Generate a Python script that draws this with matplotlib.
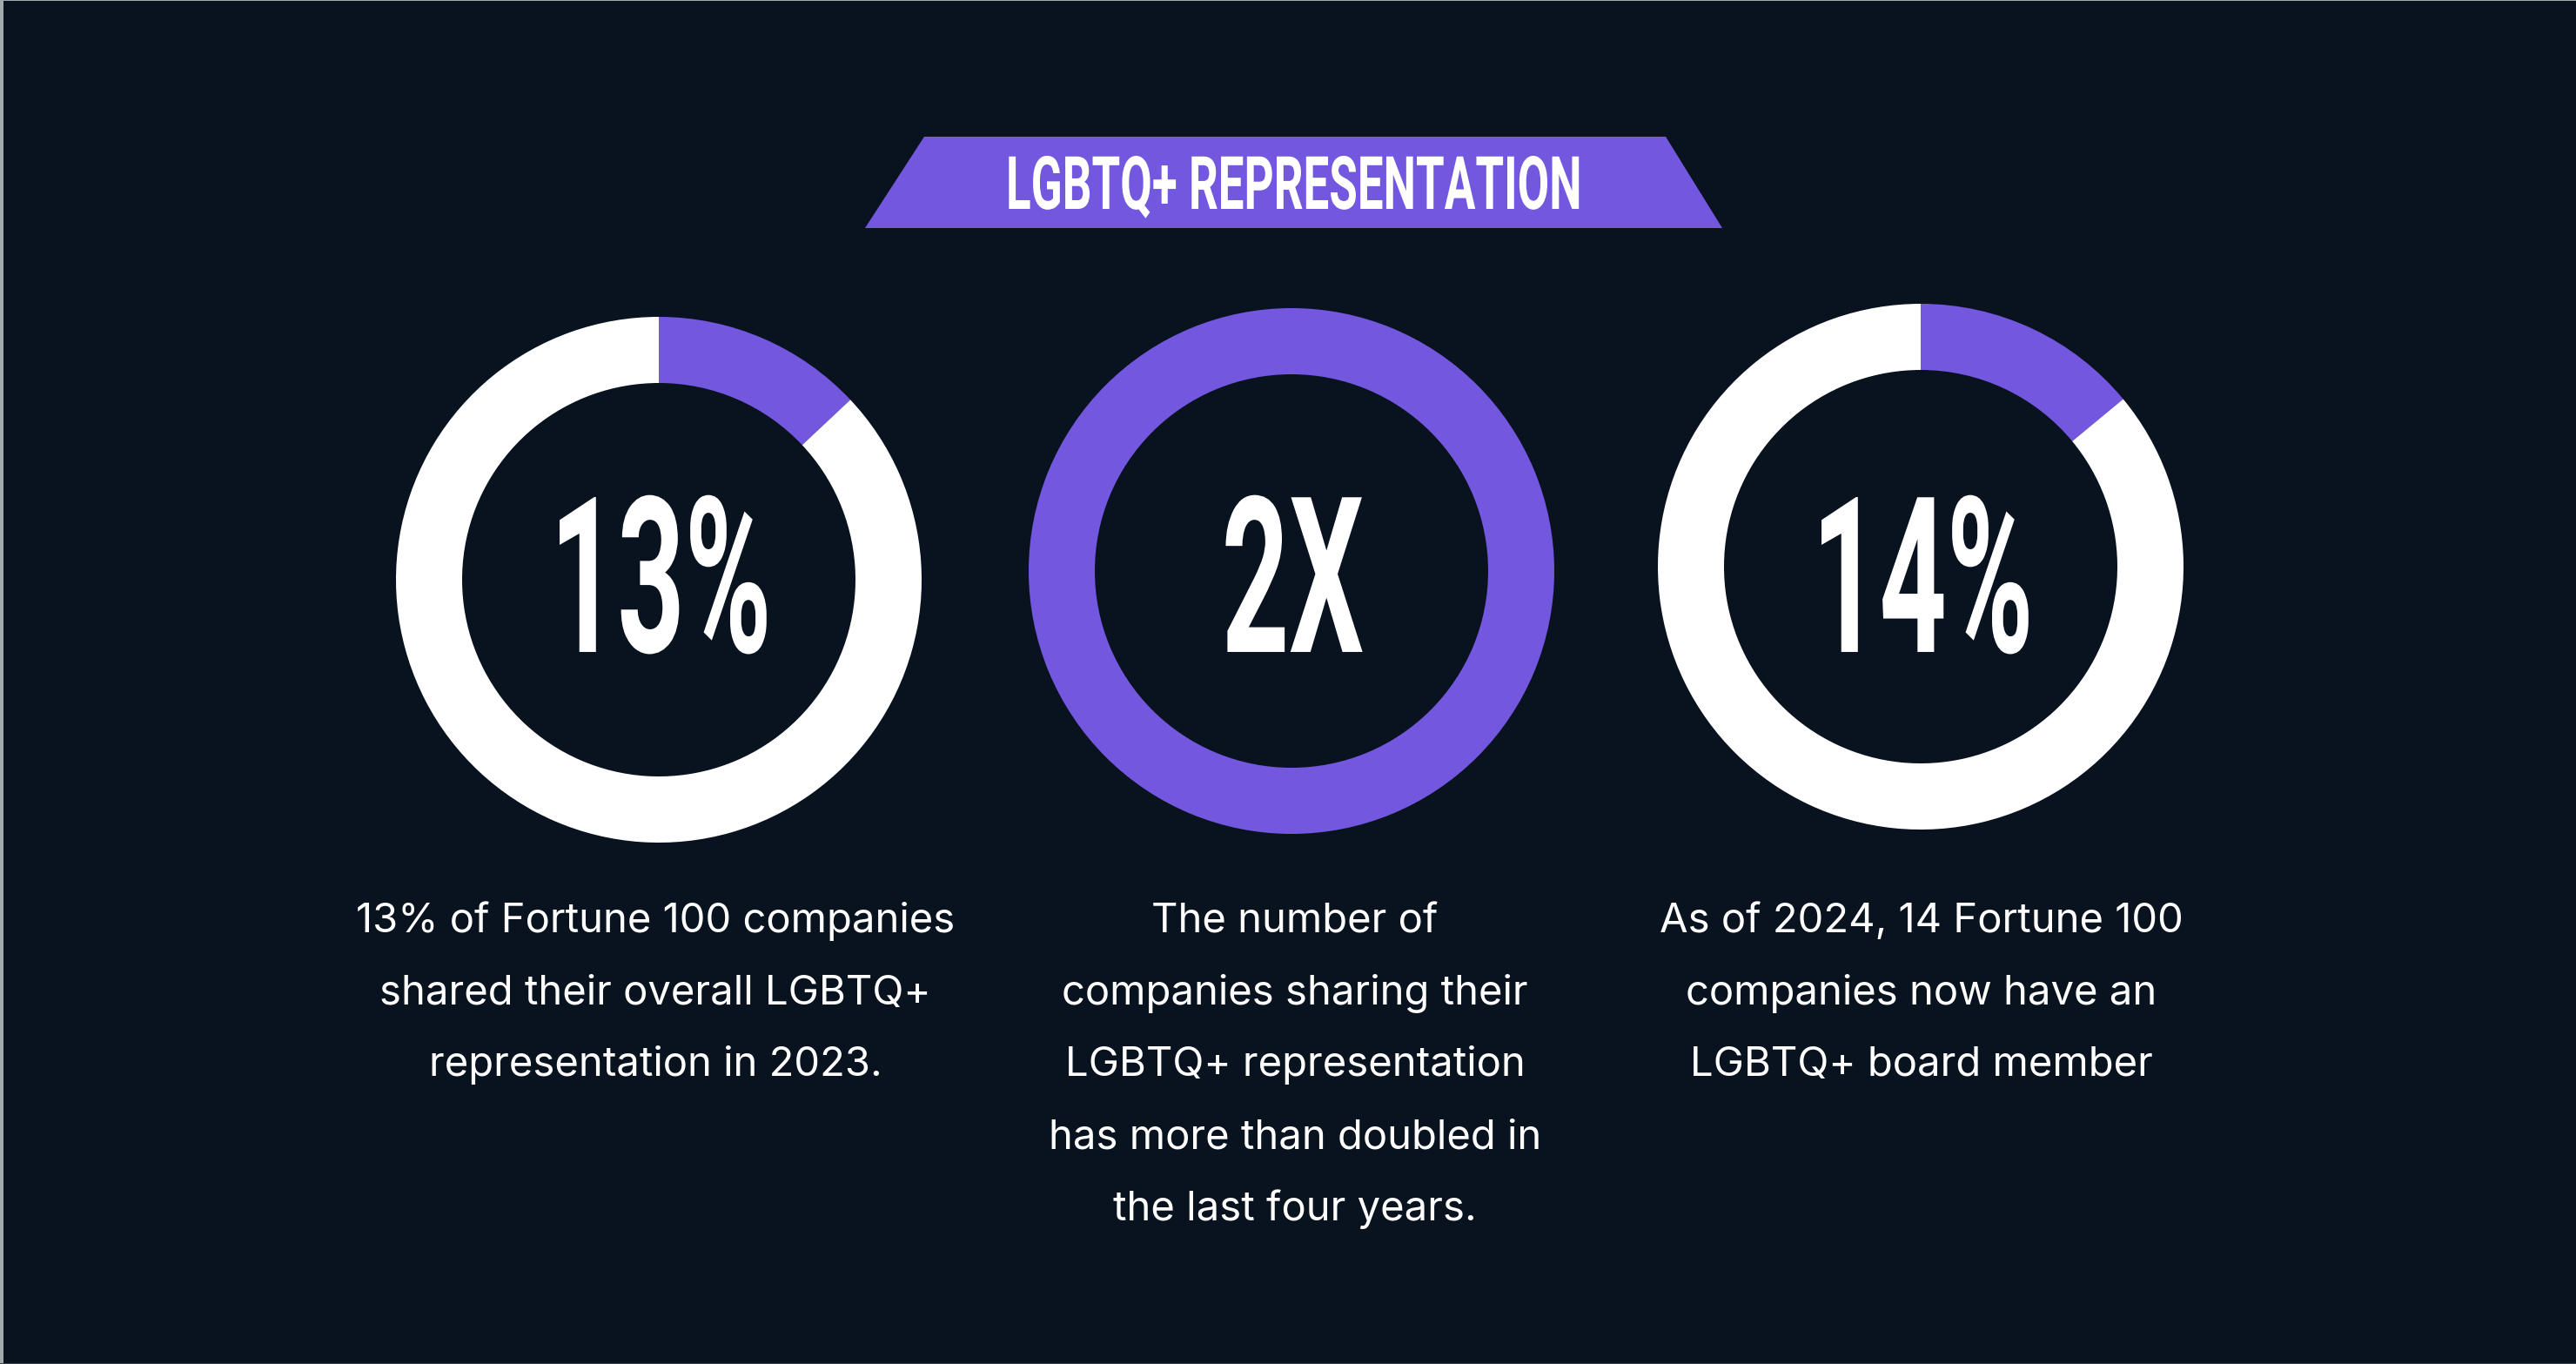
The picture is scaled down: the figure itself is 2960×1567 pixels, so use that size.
"""LGBTQ+ representation - three donut stats"""
import matplotlib
matplotlib.use("Agg")
import matplotlib.pyplot as plt
import matplotlib.patheffects as pe
from matplotlib.patches import Polygon
from matplotlib.transforms import Affine2D

# ---- data ----
title = "LGBTQ+ REPRESENTATION"
big_labels = ["13%", "2X", "14%"]
shares = [13, 100, 14]          # purple part of each ring, in %
captions = [
    ["13% of Fortune 100 companies",
     "shared their overall LGBTQ+",
     "representation in 2023."],
    ["The number of",
     "companies sharing their",
     "LGBTQ+ representation",
     "has more than doubled in",
     "the last four years."],
    ["As of 2024, 14 Fortune 100",
     "companies now have an",
     "LGBTQ+ board member"],
]

# ---- style ----
BG = "#08131F"
PURPLE = "#7357DF"
WHITE = "#FFFFFF"
EDGE = "#A4A9AE"
W, H = 2960, 1567

plt.rcParams["font.family"] = ["Inter", "DejaVu Sans"]


class Squeeze(pe.AbstractPathEffect):
    """draw text path narrower (condensed look), centred on itself"""
    def __init__(self, sx):
        super().__init__()
        self.sx = sx

    def draw_path(self, renderer, gc, tpath, affine, rgbFace=None):
        bb = tpath.get_extents(affine)
        cx = (bb.x0 + bb.x1) / 2
        squeeze = Affine2D().translate(-cx, 0).scale(self.sx, 1).translate(cx, 0)
        renderer.draw_path(gc, tpath, affine + squeeze, rgbFace)


fig = plt.figure(figsize=(W / 100, H / 100), dpi=100)
fig.patch.set_facecolor(BG)
ax = fig.add_axes([0, 0, 1, 1])
ax.set_facecolor(BG)

# ring layout (pixel coords, y up)
centers = [(757, 901), (1484, 911), (2207, 916)]
r_out, ring_w = 302, 76

for (cx, cy), s, lab in zip(centers, shares, big_labels):
    vals = [v for v in (s, 100 - s) if v > 0]
    cols = [c for v, c in zip((s, 100 - s), (PURPLE, WHITE)) if v > 0]
    ax.pie(vals, colors=cols, startangle=90, counterclock=False,
           radius=r_out, center=(cx, cy),
           wedgeprops=dict(width=ring_w, linewidth=0, antialiased=True))
    ax.text(cx, H - 749, lab, ha="center", va="baseline",
            fontsize=180, fontweight="bold", color=WHITE,
            family=["Roboto", "DejaVu Sans"],
            path_effects=[Squeeze(0.54)])

# title banner
banner = Polygon([(994, 1305), (1062, 1410), (1914, 1410), (1979, 1305)],
                 closed=True, facecolor=PURPLE, edgecolor="none")
ax.add_patch(banner)
ax.text(1487, H - 240, title, ha="center", va="baseline",
        fontsize=61, fontweight="bold", color=WHITE,
        family=["Roboto", "DejaVu Sans"],
        path_effects=[Squeeze(0.625)])

# captions
cap_x = [753, 1488, 2208]
for x, lines in zip(cap_x, captions):
    for i, line in enumerate(lines):
        ax.text(x, H - 1071 - i * 82.7, line, ha="center", va="baseline",
                fontsize=34, fontweight="normal", color=WHITE)

# thin frame left over from the original export
ax.axvspan(0, 4, color=EDGE, lw=0)
ax.axhspan(H - 1, H, color=EDGE, lw=0)
ax.axhspan(0, 1.5, color="#3A4450", lw=0)

ax.set_xlim(0, W)
ax.set_ylim(0, H)
ax.set_aspect("equal", adjustable="box")
ax.axis("off")

fig.savefig("out.png", dpi=100, facecolor=BG)
print("saved out.png")
